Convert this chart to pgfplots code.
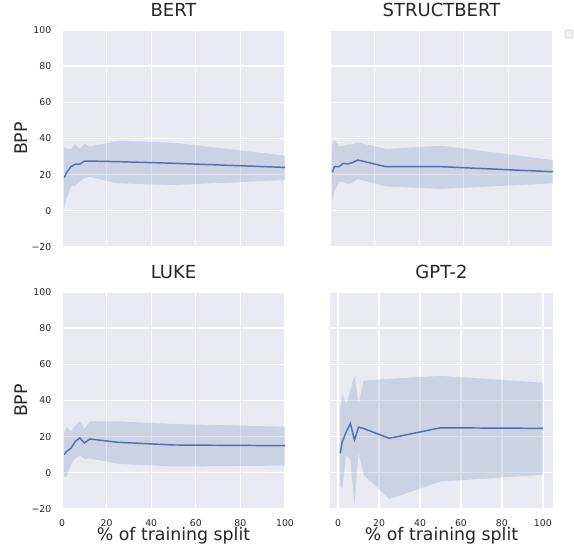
\documentclass[border=0pt]{standalone}
\usepackage{fontspec}
\setmainfont{DejaVu Sans}
\usepackage{pgfplots}
\pgfplotsset{compat=1.18}
\usepackage{pgfplotstable}
\usepgfplotslibrary{fillbetween}

\definecolor{bg}{HTML}{EAEAF2}
\definecolor{sbblue}{HTML}{4C72B0}
\definecolor{txt}{HTML}{262626}

% x = % of training split, m = mean BPP, lo/hi = band
\pgfplotstableread{
x    m    lo    hi
1    18.3  1.4  35.1
2    21.0  6.5  34.4
4    24.4 13.5  34.2
6    25.8 13.9  36.8
8    25.8 16.2  34.2
10   27.5 18.0  37.1
12.5 27.5 18.7  35.6
25   27.2 15.2  38.7
50   26.3 14.3  37.7
100  24.0 17.0  30.5
}\bert

\pgfplotstableread{
x    m    lo    hi
1    21.3  6.0  36.4
2    24.4 11.0  39.2
4    24.4 16.1  35.5
6    26.3 15.9  36.0
8    26.0 14.7  36.7
10   26.6 15.6  36.7
12.5 28.1 17.6  37.8
25   24.4 13.5  34.2
50   24.4 12.1  36.0
100  21.6 15.2  28.1
}\structbert

\pgfplotstableread{
x    m    lo    hi
1    10.1 -1.9  22.0
2    11.8 -2.4  25.2
4    13.6  4.6  23.0
6    17.4  8.0  26.1
8    19.3  9.5  28.5
10   16.5  7.7  24.3
12.5 18.7  8.0  28.5
25   16.9  5.0  28.5
50   15.4  3.5  27.0
100  15.0  4.0  25.5
}\luke

\pgfplotstableread{
x    m    lo    hi
1    10.8  -7.5  36.0
2    17.0  -8.6  43.8
4    22.7   9.5  37.8
6    27.3   7.0  46.0
8    18.2 -17.6  54.0
10   25.2  11.2  38.3
12.5 24.5  -1.1  51.0
25   19.1 -14.5  52.0
50   24.9  -4.8  53.6
100  24.6  -1.1  49.9
}\gpttwo

\pgfplotsset{
  facet/.style={
    width=167.25pt, height=162.75pt, scale only axis,
    xmin=0, xmax=100, ymin=-20, ymax=100,
    xtick={0,20,...,100}, ytick={-20,0,...,100},
    yticklabels={−20,0,20,40,60,80,100},
    grid=major, grid style={white, line width=1pt},
    axis background/.style={fill=bg},
    axis line style={draw=none},
    major tick length=0pt,
    tick label style={font=\fontsize{7}{8}\selectfont, text=txt},
    yticklabel style={xshift=-4.5pt},
    xticklabel style={yshift=-4.2pt},
    /pgf/number format/assume math mode=true,
    title style={font=\fontsize{13.5}{16}\selectfont, text=txt,
      at={(axis description cs:0.5,1)}, anchor=base, yshift=3.75pt},
    label style={font=\fontsize{13}{15}\selectfont, text=txt},
    ylabel style={at={(axis description cs:-0.185,0.5)}, anchor=center},
    xlabel style={at={(axis description cs:0.5,-0.143)}, anchor=base},
  },
  band/.style={fill=sbblue, fill opacity=0.2, draw=none},
  mean/.style={sbblue, line width=1.1pt},
}

\begin{document}
\begin{tikzpicture}

\begin{axis}[facet, at={(0pt,196.5pt)}, anchor=south west,
    title=BERT, ylabel=BPP, xticklabels={}]
\addplot[draw=none, name path=hi] table[x=x, y=hi] {\bert};
\addplot[draw=none, name path=lo] table[x=x, y=lo] {\bert};
\addplot[band] fill between[of=hi and lo];
\addplot[mean] table[x=x, y=m] {\bert};
\end{axis}

\begin{axis}[facet, name=sb, at={(201pt,196.5pt)}, anchor=south west,
    title=STRUCTBERT, xticklabels={}, yticklabels={}]
\addplot[draw=none, name path=hi] table[x=x, y=hi] {\structbert};
\addplot[draw=none, name path=lo] table[x=x, y=lo] {\structbert};
\addplot[band] fill between[of=hi and lo];
\addplot[mean] table[x=x, y=m] {\structbert};
\end{axis}
% empty legend frame
\draw[rounded corners=1.2pt, draw=black!18, fill=bg!60!white, line width=0.6pt]
  ([xshift=9pt]sb.north east) rectangle ([xshift=15pt,yshift=-6pt]sb.north east);

\begin{axis}[facet, at={(0pt,0pt)}, anchor=south west,
    title=LUKE, ylabel=BPP, xlabel={\% of training split}]
\addplot[draw=none, name path=hi] table[x=x, y=hi] {\luke};
\addplot[draw=none, name path=lo] table[x=x, y=lo] {\luke};
\addplot[band] fill between[of=hi and lo];
\addplot[mean] table[x=x, y=m] {\luke};
\end{axis}

\begin{axis}[facet, at={(201pt,0pt)}, anchor=south west,
    xmin=-3.95, xmax=104.95,
    title=GPT-2, xlabel={\% of training split}, yticklabels={}]
\addplot[draw=none, name path=hi] table[x=x, y=hi] {\gpttwo};
\addplot[draw=none, name path=lo] table[x=x, y=lo] {\gpttwo};
\addplot[band] fill between[of=hi and lo];
\addplot[mean] table[x=x, y=m] {\gpttwo};
\end{axis}

\pgfresetboundingbox
\useasboundingbox (-46.5pt,-27pt) rectangle (384pt,381.75pt);
\end{tikzpicture}
\end{document}
